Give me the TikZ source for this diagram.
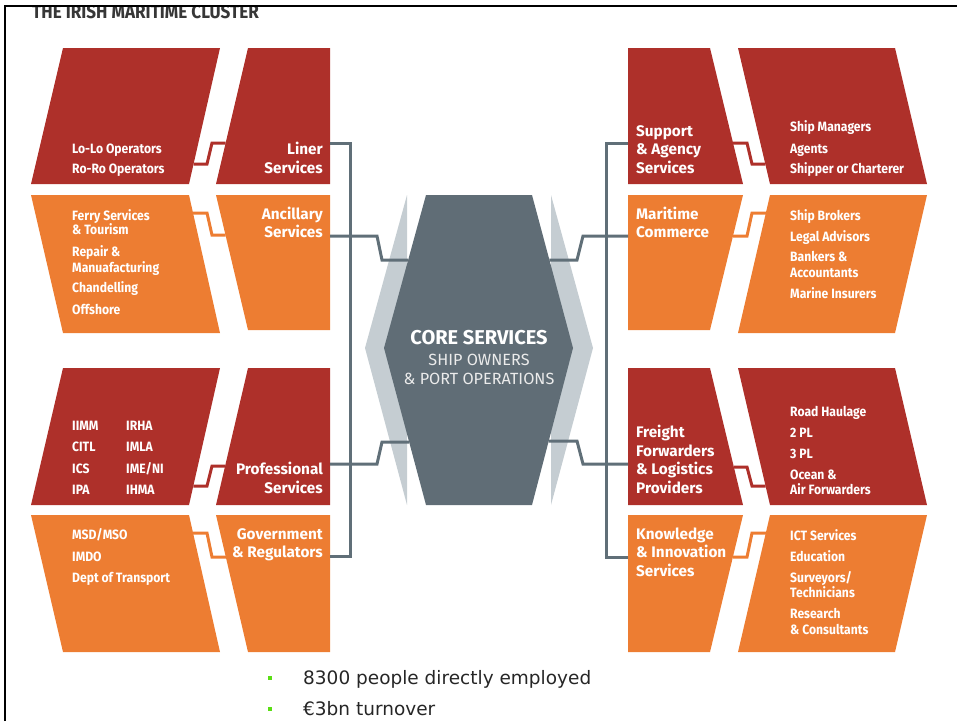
\documentclass[tikz,border=0pt]{standalone}
\usepackage{fontspec}
\newfontfamily\boxfont{Fira Sans}[FakeStretch=0.9]
\newfontfamily\corefont{Fira Sans}
\newfontfamily\bulfont{DejaVu Sans}
\definecolor{mred}{RGB}{174,48,42}
\definecolor{morange}{RGB}{237,125,50}
\definecolor{hexc}{RGB}{96,109,118}
\definecolor{lightc}{RGB}{197,205,210}
\definecolor{linec}{RGB}{96,111,120}
\definecolor{titlec}{RGB}{55,55,55}
\definecolor{bulc}{RGB}{90,222,20}
\tikzset{
  redbox/.style={fill=mred},
  orbox/.style={fill=morange},
  link/.style={line width=3pt, line join=miter},
  trunk/.style={draw=linec, line width=3pt, line join=miter},
  itemL/.style={anchor=base west, inner sep=0, text=white, font=\boxfont\bfseries\fontsize{13.5}{15}\selectfont},
  titleL/.style={anchor=base east, inner sep=0, text=white, font=\corefont\bfseries\fontsize{15.3}{17}\selectfont},
  titleR/.style={anchor=base west, inner sep=0, text=white, font=\corefont\bfseries\fontsize{15.3}{17}\selectfont},
  bultext/.style={anchor=base west, inner sep=0, text=black!85, font=\bulfont\fontsize{18.5}{20}\selectfont},
  bulsq/.style={fill=bulc, minimum size=4pt, inner sep=0},
}
\begin{document}
\begin{tikzpicture}[x=1pt,y=-1pt]
\useasboundingbox (0,0) rectangle (957,721);
% title and frame
\node[anchor=base west, inner sep=0, text=titlec, font=\boxfont\bfseries\fontsize{19}{21}\selectfont] (title) at (32,18.5) {THE IRISH MARITIME CLUSTER};
\fill[white] (0,0) rectangle (957,5);
\draw[line width=2.5pt] (5,721) -- (5,6) -- (957,6);

% ---------- left boxes ----------
\fill[redbox] (63,48) -- (220,48) -- (189,184) -- (31,184) -- cycle;
\fill[redbox] (248,48) -- (330,48) -- (330,184) -- (216,184) -- cycle;
\fill[orbox] (31,195) -- (189,195) -- (220,333) -- (63,333) -- cycle;
\fill[orbox] (216,195) -- (330,195) -- (330,330) -- (248,330) -- cycle;
\fill[redbox] (63,368) -- (220,368) -- (189,505) -- (31,505) -- cycle;
\fill[redbox] (248,368) -- (330,368) -- (330,505) -- (216,505) -- cycle;
\fill[orbox] (31,515) -- (189,515) -- (220,652) -- (63,652) -- cycle;
\fill[orbox] (216,515) -- (330,515) -- (330,652) -- (248,652) -- cycle;

% ---------- right boxes ----------
\fill[redbox] (628,48) -- (710,48) -- (743,184) -- (628,184) -- cycle;
\fill[redbox] (738,48) -- (895,48) -- (927,184) -- (770,184) -- cycle;
\fill[orbox] (628,195) -- (743,195) -- (710,330) -- (628,330) -- cycle;
\fill[orbox] (770,195) -- (927,195) -- (895,333) -- (738,333) -- cycle;
\fill[redbox] (628,368) -- (710,368) -- (743,505) -- (628,505) -- cycle;
\fill[redbox] (738,368) -- (895,368) -- (927,505) -- (770,505) -- cycle;
\fill[orbox] (628,515) -- (743,515) -- (710,652) -- (628,652) -- cycle;
\fill[orbox] (770,515) -- (927,515) -- (895,652) -- (738,652) -- cycle;

% ---------- coordinates for connectors ----------
\coordinate (lolo-r) at (193.6,164);  \coordinate (liner-l) at (225.6,143);
\coordinate (ferry-r) at (193,213);   \coordinate (anc-l) at (225.5,235);
\coordinate (iimm-r) at (193.3,486);  \coordinate (prof-l) at (225.1,466);
\coordinate (msd-r) at (193,533);     \coordinate (gov-l) at (225.8,557);
\coordinate (sup-r) at (733,143);     \coordinate (ship-l) at (765.3,164);
\coordinate (mar-r) at (733,236);     \coordinate (brok-l) at (765.8,213);
\coordinate (frei-r) at (733.8,467);  \coordinate (road-l) at (765.6,486);
\coordinate (know-r) at (732.9,557);  \coordinate (ict-l) at (765.8,533);
\coordinate (liner-r) at (330,143);   \coordinate (anc-r) at (330,236);
\coordinate (prof-r) at (330,464);    \coordinate (gov-r) at (330,556);
\coordinate (sup-l) at (628,143);     \coordinate (mar-l) at (628,236);
\coordinate (frei-l) at (628,464);    \coordinate (know-l) at (628,557);
\coordinate (hex-ul) at (408.2,260);  \coordinate (hex-ll) at (409.1,442);
\coordinate (hex-ur) at (549.4,260);  \coordinate (hex-lr) at (548.7,441);

% pair connectors
\draw[link, mred] (lolo-r) -- (207,164) -- (212,143) -- (liner-l);
\draw[link, morange] (ferry-r) -- (207,213) -- (212,235) -- (anc-l);
\draw[link, mred] (iimm-r) -- (207,486) -- (212,466) -- (prof-l);
\draw[link, morange] (msd-r) -- (207,533) -- (212,557) -- (gov-l);
\draw[link, mred] (sup-r) -- (747,143) -- (752,164) -- (ship-l);
\draw[link, morange] (mar-r) -- (747,236) -- (752,213) -- (brok-l);
\draw[link, mred] (frei-r) -- (747,467) -- (752,486) -- (road-l);
\draw[link, morange] (know-r) -- (747,557) -- (752,533) -- (ict-l);

% ---------- core ----------
\fill[lightc] (407,195) -- (365,348) -- (407,505) -- cycle;
\fill[lightc] (551,195) -- (593,348) -- (551,505) -- cycle;

\draw[trunk] (liner-r) -- (350,143) -- (350,556) -- (gov-r);
\draw[trunk] (sup-l) -- (606,143) -- (606,557) -- (know-l);
\draw[trunk] (anc-r) -- (377,236) -- (382,260) -- (hex-ul);
\draw[trunk] (prof-r) -- (377,464) -- (382,442) -- (hex-ll);
\draw[trunk] (mar-l) -- (583,236) -- (577,260) -- (hex-ur);
\draw[trunk] (frei-l) -- (583,464) -- (577,441) -- (hex-lr);

\fill[hexc] (426,195) -- (532,195) -- (573,348) -- (532,505) -- (426,505) -- (384,348) -- cycle;
\node[anchor=base, inner sep=0, text=white, font=\corefont\bfseries\fontsize{20}{22}\selectfont] (core1) at (479,344.5) {CORE SERVICES};
\node[anchor=base, inner sep=0, text=white!92!black, font=\corefont\fontsize{16.2}{18}\selectfont] (core2) at (479,365) {SHIP OWNERS};
\node[anchor=base, inner sep=0, text=white!92!black, font=\corefont\fontsize{16.2}{18}\selectfont] (core3) at (479,384.5) {\& PORT OPERATIONS};

% ---------- left texts ----------
\node[itemL] (lolo1) at (72,153) {Lo-Lo Operators};
\node[itemL] (lolo2) at (72,173) {Ro-Ro Operators};
\node[titleL] (liner1) at (323,154) {Liner};
\node[titleL] (liner2) at (323,173) {Services};

\node[itemL] (ferry1) at (72,220) {Ferry Services};
\node[itemL] (ferry2) at (72,234) {\& Tourism};
\node[itemL] (ferry3) at (72,256) {Repair \&};
\node[itemL] (ferry4) at (72,272) {Manuafacturing};
\node[itemL] (ferry5) at (72,292) {Chandelling};
\node[itemL] (ferry6) at (72,314) {Offshore};
\node[titleL] (anc1) at (323,219) {Ancillary};
\node[titleL] (anc2) at (323,237) {Services};

\node[itemL] (iimm1) at (72,430) {IIMM};
\node[itemL] (iimm2) at (72,451) {CITL};
\node[itemL] (iimm3) at (72,473) {ICS};
\node[itemL] (iimm4) at (72,494) {IPA};
\node[itemL] (iimm5) at (126,430) {IRHA};
\node[itemL] (iimm6) at (126,451) {IMLA};
\node[itemL] (iimm7) at (126,473) {IME/NI};
\node[itemL] (iimm8) at (126,494) {IHMA};
\node[titleL] (prof1) at (323,474) {Professional};
\node[titleL] (prof2) at (323,493) {Services};

\node[itemL] (msd1) at (72,539) {MSD/MSO};
\node[itemL] (msd2) at (72,561) {IMDO};
\node[itemL] (msd3) at (72,582) {Dept of Transport};
\node[titleL] (gov1) at (323,539) {Government};
\node[titleL] (gov2) at (323,557) {\& Regulators};

% ---------- right texts ----------
\node[titleR] (sup1) at (636,136) {Support};
\node[titleR] (sup2) at (636,154) {\& Agency};
\node[titleR] (sup3) at (636,173) {Services};
\node[itemL] (ship1) at (790,131) {Ship Managers};
\node[itemL] (ship2) at (790,153) {Agents};
\node[itemL] (ship3) at (790,173) {Shipper or Charterer};

\node[titleR] (mar1) at (636,219) {Maritime};
\node[titleR] (mar2) at (636,237) {Commerce};
\node[itemL] (brok1) at (790,220) {Ship Brokers};
\node[itemL] (brok2) at (790,241) {Legal Advisors};
\node[itemL] (brok3) at (790,261) {Bankers \&};
\node[itemL] (brok4) at (790,277) {Accountants};
\node[itemL] (brok5) at (790,298) {Marine Insurers};

\node[titleR] (frei1) at (636,437) {Freight};
\node[titleR] (frei2) at (636,456) {Forwarders};
\node[titleR] (frei3) at (636,474) {\& Logistics};
\node[titleR] (frei4) at (636,493) {Providers};
\node[itemL] (road1) at (790,416) {Road Haulage};
\node[itemL] (road2) at (790,437) {2 PL};
\node[itemL] (road3) at (790,458) {3 PL};
\node[itemL] (road4) at (790,479) {Ocean \&};
\node[itemL] (road5) at (790,494) {Air Forwarders};

\node[titleR] (know1) at (636,539) {Knowledge};
\node[titleR] (know2) at (636,557) {\& Innovation};
\node[titleR] (know3) at (636,576) {Services};
\node[itemL] (ict1) at (790,540) {ICT Services};
\node[itemL] (ict2) at (790,561) {Education};
\node[itemL] (ict3) at (790,582) {Surveyors/};
\node[itemL] (ict4) at (790,597) {Technicians};
\node[itemL] (ict5) at (790,618) {Research};
\node[itemL] (ict6) at (790,634) {\& Consultants};

% ---------- bullets ----------
\node[bulsq] (b1) at (270,678) {};
\node[bulsq] (b2) at (270,709) {};
\node[bultext] (t1) at (303,684.5) {8300 people directly employed};
\node[bultext] (t2) at (303,715.5) {€3bn turnover};
\end{tikzpicture}
\end{document}
